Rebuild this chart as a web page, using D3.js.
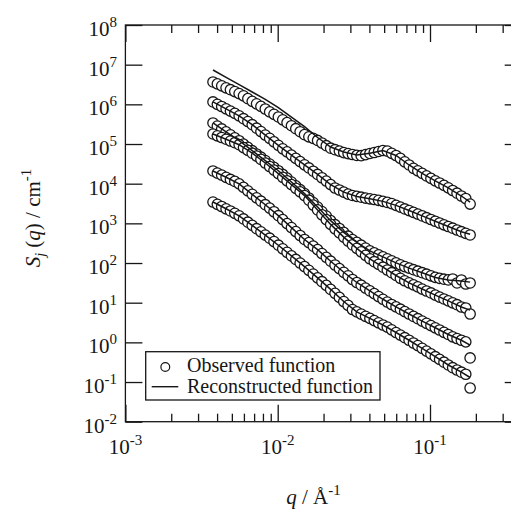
<!DOCTYPE html>
<html>
<head>
<meta charset="utf-8">
<script src="https://cdn.jsdelivr.net/npm/d3@7"></script>
<style>
body { margin: 0; background: #fff; }
svg { display: block; font-family: "Liberation Serif", "Times New Roman", serif; }
</style>
</head>
<body>
<script>
// scattering vector q (1/Å), shared by all observed curves
const q = [0.00376, 0.004016, 0.00429, 0.004582, 0.004894, 0.005227, 0.005583, 0.005963, 0.006369, 0.006803,
  0.007266, 0.007761, 0.008289, 0.008854, 0.009457, 0.0101, 0.01079, 0.01152, 0.01231, 0.01315,
  0.01404, 0.015, 0.01602, 0.01711, 0.01828, 0.01952, 0.02085, 0.02227, 0.02379, 0.02541,
  0.02714, 0.02899, 0.03096, 0.03307, 0.03532, 0.03773, 0.0403, 0.04304, 0.04597, 0.0491,
  0.05245, 0.05602, 0.05983, 0.06391, 0.06826, 0.07291, 0.07787, 0.08318, 0.08884, 0.09489,
  0.1014, 0.1083, 0.1156, 0.1235, 0.1319, 0.1409, 0.1505, 0.1607, 0.1717, 0.1834]

// observed S_j(q), one array per component, top to bottom
const sA = [3.66e6, 3.28e6, 2.93e6, 2.61e6, 2.34e6, 2.10e6, 1.87e6, 1.64e6, 1.39e6, 1.19e6,
  1.03e6, 8.87e5, 7.63e5, 6.45e5, 5.61e5, 4.80e5, 4.08e5, 3.45e5, 2.89e5, 2.43e5,
  2.04e5, 1.72e5, 1.52e5, 1.39e5, 1.23e5, 1.06e5, 9.07e4, 7.84e4, 7.19e4, 6.63e4,
  6.07e4, 5.73e4, 5.44e4, 5.16e4, 5.07e4, 5.41e4, 5.77e4, 6.11e4, 6.48e4, 6.86e4,
  6.63e4, 5.83e4, 5.13e4, 4.34e4, 3.56e4, 2.96e4, 2.44e4, 2.11e4, 1.82e4, 1.57e4,
  1.36e4, 1.18e4, 1.04e4, 9.05e3, 7.87e3, 6.73e3, 5.75e3, 4.89e3, 4.23e3, 3.07e3]
const sB = [1.15e6, 1.00e6, 8.82e5, 7.72e5, 6.75e5, 5.91e5, 5.14e5, 4.35e5, 3.69e5, 3.07e5,
  2.50e5, 2.06e5, 1.68e5, 1.39e5, 1.13e5, 9.28e4, 7.58e4, 6.33e4, 5.25e4, 4.34e4,
  3.60e4, 2.99e4, 2.49e4, 2.06e4, 1.71e4, 1.41e4, 1.16e4, 9.48e3, 7.78e3, 6.93e3,
  6.13e3, 5.46e3, 5.04e3, 4.78e3, 4.56e3, 4.33e3, 4.16e3, 3.99e3, 3.81e3, 3.58e3,
  3.37e3, 3.15e3, 2.84e3, 2.57e3, 2.31e3, 2.10e3, 1.89e3, 1.71e3, 1.54e3, 1.39e3,
  1.25e3, 1.13e3, 1.02e3, 919, 833, 755, 680, 616, 561, 509]
const sC = [3.39e5, 2.84e5, 2.40e5, 2.02e5, 1.71e5, 1.43e5, 1.21e5, 9.95e4, 8.21e4, 6.78e4,
  5.60e4, 4.65e4, 3.82e4, 3.13e4, 2.57e4, 2.12e4, 1.71e4, 1.38e4, 1.10e4, 8.79e3,
  7.05e3, 5.62e3, 4.36e3, 3.35e3, 2.58e3, 1.98e3, 1.53e3, 1.17e3, 925, 742,
  591, 475, 389, 331, 281, 238, 202, 180, 160, 143,
  128, 114, 101, 90.2, 81.3, 74.4, 67.9, 62.2, 57.0, 52.3,
  47.6, 43.4, 41.0, 39.1, 37.5, 39.6, 31.4, 37.3, 29.6, 31.4]
const sD = [1.79e5, 1.61e5, 1.46e5, 1.32e5, 1.19e5, 1.08e5, 9.61e4, 8.12e4, 6.90e4, 5.87e4,
  4.96e4, 4.09e4, 3.32e4, 2.71e4, 2.20e4, 1.80e4, 1.45e4, 1.18e4, 9.48e3, 7.65e3,
  6.21e3, 5.01e3, 3.83e3, 2.89e3, 2.18e3, 1.64e3, 1.24e3, 941, 729, 575,
  450, 357, 286, 234, 191, 156, 128, 108, 92.3, 78.5,
  66.7, 57.0, 48.5, 41.2, 35.7, 31.7, 28.1, 25.0, 22.1, 19.7,
  17.6, 15.5, 13.8, 12.4, 11.1, 9.94, 8.90, 7.79, 7.35, 5.19]
const sE = [2.09e4, 1.85e4, 1.64e4, 1.45e4, 1.28e4, 1.14e4, 9.87e3, 8.06e3, 6.61e3, 5.40e3,
  4.41e3, 3.62e3, 2.95e3, 2.42e3, 1.96e3, 1.56e3, 1.24e3, 986, 782, 620,
  494, 392, 327, 266, 218, 173, 139, 111, 89.2, 72.3,
  58.4, 47.6, 38.4, 32.3, 27.6, 23.3, 19.8, 16.9, 14.3, 12.2,
  10.4, 9.00, 7.83, 6.85, 5.96, 5.19, 4.51, 3.95, 3.44, 3.02,
  2.65, 2.33, 2.05, 1.79, 1.58, 1.38, 1.25, 1.13, 1.03, 0.404]
const sF = [3.45e3, 3.02e3, 2.66e3, 2.33e3, 2.05e3, 1.79e3, 1.55e3, 1.29e3, 1.07e3, 888,
  733, 612, 506, 422, 347, 281, 228, 186, 151, 123,
  100, 81.2, 65.5, 52.6, 42.2, 33.8, 27.3, 21.6, 17.2, 13.6,
  10.7, 8.55, 6.73, 5.86, 5.16, 4.54, 4.02, 3.54, 3.11, 2.74,
  2.43, 2.07, 1.77, 1.53, 1.31, 1.13, 0.964, 0.829, 0.709, 0.602,
  0.512, 0.435, 0.372, 0.316, 0.269, 0.230, 0.201, 0.177, 0.157, 0.0707]

// reconstructed functions, sampled on a coarser q grid
const fitQ = [0.00376, 0.004582, 0.005583, 0.006803, 0.008289, 0.0101, 0.01231, 0.015, 0.01828, 0.02227,
  0.02714, 0.03307, 0.0403, 0.0491, 0.05983, 0.07291, 0.08884, 0.1083, 0.1319, 0.1607, 0.1834]
const fitA = [7.34e6, 4.78e6, 3.13e6, 2.05e6, 1.34e6, 8.28e5, 4.77e5, 2.75e5, 1.46e5, 8.41e4,
  6.29e4, 5.28e4, 5.87e4, 6.86e4, 5.13e4, 2.96e4, 1.82e4, 1.18e4, 7.87e3, 4.89e3, 3.45e3]
const fitB = [1.15e6, 7.72e5, 5.14e5, 3.07e5, 1.68e5, 9.28e4, 5.25e4, 2.99e4, 1.71e4, 9.48e3,
  6.13e3, 4.78e3, 4.16e3, 3.58e3, 2.84e3, 2.10e3, 1.54e3, 1.13e3, 833, 616, 530]
const fitC = [3.39e5, 2.02e5, 1.21e5, 6.78e4, 3.82e4, 2.12e4, 1.10e4, 5.62e3, 2.58e3, 1.17e3,
  591, 331, 202, 143, 101, 74.4, 57.0, 43.4, 37.5, 35, 33]
const fitD = [1.79e5, 1.32e5, 9.61e4, 5.87e4, 3.32e4, 1.80e4, 9.48e3, 5.01e3, 2.18e3, 941,
  450, 234, 128, 78.5, 48.5, 31.7, 22.1, 15.5, 11.1, 7.79, 6.5]
const fitE = [2.09e4, 1.45e4, 9.87e3, 5.40e3, 2.95e3, 1.56e3, 782, 392, 218, 111,
  58.4, 32.3, 19.8, 12.2, 7.83, 5.19, 3.44, 2.33, 1.58, 1.13, 0.85]
const fitF = [3.45e3, 2.33e3, 1.55e3, 888, 506, 281, 151, 81.2, 42.2, 21.6,
  10.7, 5.86, 4.02, 2.74, 1.77, 1.13, 0.709, 0.435, 0.269, 0.177, 0.13]

const xMajorExp = [-3, -2, -1]
const yMajorExp = [-2, -1, 0, 1, 2, 3, 4, 5, 6, 7, 8]
const legendLabels = ['Observed function', 'Reconstructed function']

const observed = [sA, sB, sC, sD, sE, sF]
const fits = [fitA, fitB, fitC, fitD, fitE, fitF]

const w = 511
const h = 509
const pLeft = 125.4, pRight = 521.7, pTop = 25, pBottom = 421.7
const ink = '#161616'

const svg = d3.select('body')
  .append('svg')
  .attr('width', w)
  .attr('height', h)

const xScale = d3.scaleLog().domain([1e-3, 0.4]).range([pLeft, pRight])
const yScale = d3.scaleLog().domain([1e-2, 1e8]).range([pBottom, pTop])

const xMajor = xMajorExp.map(e => Math.pow(10, e))
const xMinor = []
xMajorExp.forEach(e => {
  for (let m = 2; m <= 9; m++) {
    const v = m * Math.pow(10, e)
    if (v <= 0.4) xMinor.push(v)
  }
})
const yMajor = yMajorExp.map(e => Math.pow(10, e))

// inward ticks on all four sides
const tickAxis = (axis, vals, size) => axis.tickValues(vals).tickSizeInner(-size).tickSizeOuter(0).tickFormat('')
const drawAxis = (axis, tx, ty) => {
  const g = svg.append('g').attr('transform', `translate(${tx},${ty})`).call(axis)
  g.select('.domain').remove()
  g.selectAll('line').attr('stroke', ink).attr('stroke-width', 1.3)
}
drawAxis(tickAxis(d3.axisBottom(xScale), xMajor, 17), 0, pBottom)
drawAxis(tickAxis(d3.axisBottom(xScale), xMinor, 8), 0, pBottom)
drawAxis(tickAxis(d3.axisTop(xScale), xMajor, 17), 0, pTop)
drawAxis(tickAxis(d3.axisTop(xScale), xMinor, 8), 0, pTop)
drawAxis(tickAxis(d3.axisLeft(yScale), yMajor, 17), pLeft, 0)
drawAxis(tickAxis(d3.axisRight(yScale), yMajor, 17), pRight, 0)

svg.append('rect')
  .attr('x', pLeft).attr('y', pTop)
  .attr('width', pRight - pLeft).attr('height', pBottom - pTop)
  .attr('fill', 'none').attr('stroke', ink).attr('stroke-width', 1.3)

// tick labels as 10 with superscript exponent
const powLabel = (sel, e) => {
  sel.append('tspan').text('10')
  sel.append('tspan').attr('dy', -9).attr('font-size', 15).text(String(e))
}
xMajorExp.forEach(e => {
  svg.append('text')
    .attr('x', xScale(Math.pow(10, e)))
    .attr('y', 454)
    .attr('text-anchor', 'middle')
    .attr('font-size', 21)
    .attr('fill', ink)
    .call(powLabel, e)
})
yMajorExp.forEach(e => {
  svg.append('text')
    .attr('x', 117)
    .attr('y', yScale(Math.pow(10, e)) + 11)
    .attr('text-anchor', 'end')
    .attr('font-size', 21)
    .attr('fill', ink)
    .call(powLabel, e)
})

// axis titles
const yt = svg.append('text')
  .attr('transform', 'translate(40,218) rotate(-90)')
  .attr('text-anchor', 'middle')
  .attr('font-size', 21)
  .attr('fill', ink)
yt.append('tspan').attr('font-style', 'italic').text('S')
yt.append('tspan').attr('font-style', 'italic').attr('font-size', 14).attr('dy', 5).text('j')
yt.append('tspan').attr('dy', -5).text(' (')
yt.append('tspan').attr('font-style', 'italic').text('q')
yt.append('tspan').text(') / cm')
yt.append('tspan').attr('dy', -9).attr('font-size', 15).text('-1')

const xt = svg.append('text')
  .attr('x', 313.5)
  .attr('y', 504)
  .attr('text-anchor', 'middle')
  .attr('font-size', 21)
  .attr('fill', ink)
xt.append('tspan').attr('font-style', 'italic').text('q')
xt.append('tspan').text(' / Å')
xt.append('tspan').attr('dy', -9).attr('font-size', 15).text('-1')

// data
const line = d3.line().x(d => xScale(d[0])).y(d => yScale(d[1]))

observed.forEach(s => {
  svg.append('g')
    .selectAll('circle')
    .data(q.map((v, i) => [v, s[i]]))
    .enter()
    .append('circle')
    .attr('cx', d => xScale(d[0]))
    .attr('cy', d => yScale(d[1]))
    .attr('r', 5.2)
    .attr('fill', '#fff')
    .attr('stroke', ink)
    .attr('stroke-width', 1.3)
})
fits.forEach(f => {
  svg.append('path')
    .datum(fitQ.map((v, i) => [v, f[i]]))
    .attr('d', line)
    .attr('fill', 'none')
    .attr('stroke', ink)
    .attr('stroke-width', 1.5)
})

// legend
const lg = svg.append('g')
lg.append('rect')
  .attr('x', 145.7).attr('y', 351.7)
  .attr('width', 234.3).attr('height', 48.3)
  .attr('fill', '#fff').attr('stroke', ink).attr('stroke-width', 1.3)
lg.append('circle')
  .attr('cx', 165.3).attr('cy', 367)
  .attr('r', 4.4)
  .attr('fill', '#fff').attr('stroke', ink).attr('stroke-width', 1.2)
lg.append('line')
  .attr('x1', 151.7).attr('x2', 178.3)
  .attr('y1', 386.7).attr('y2', 386.7)
  .attr('stroke', ink).attr('stroke-width', 1.4)
lg.selectAll('text.lab')
  .data(legendLabels)
  .enter()
  .append('text')
  .attr('class', 'lab')
  .attr('x', 187)
  .attr('y', (d, i) => 371.7 + i * 21)
  .attr('font-size', 20)
  .attr('fill', ink)
  .text(d => d)
</script>
</body>
</html>
